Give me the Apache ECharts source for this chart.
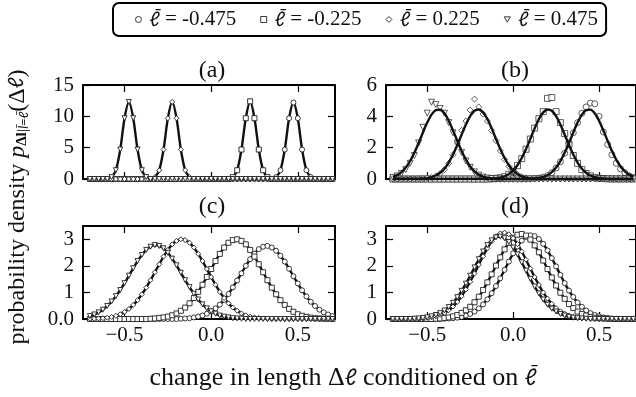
<!DOCTYPE html>
<html>
<head>
<meta charset="utf-8">
<script src="https://cdn.jsdelivr.net/npm/echarts@6/dist/echarts.min.js"></script>
<style>
  html, body { margin: 0; padding: 0; background: #fff; }
  #chart { width: 636px; height: 397px; }
</style>
</head>
<body>
<div id="chart"></div>
<script>
// shared x positions of the measured points (change in length)
const xGrid = [-0.7,-0.675,-0.65,-0.625,-0.6,-0.575,-0.55,-0.525,-0.5,-0.475,
  -0.45,-0.425,-0.4,-0.375,-0.35,-0.325,-0.3,-0.275,-0.25,-0.225,
  -0.2,-0.175,-0.15,-0.125,-0.1,-0.075,-0.05,-0.025,0,0.025,
  0.05,0.075,0.1,0.125,0.15,0.175,0.2,0.225,0.25,0.275,
  0.3,0.325,0.35,0.375,0.4,0.425,0.45,0.475,0.5,0.525,
  0.55,0.575,0.6,0.625,0.65,0.675,0.7];

const xTicks = [-0.5, 0, 0.5];
const yTicksA = [0, 5, 10, 15];
const yTicksB = [0, 2, 4, 6];
const yTicksCD = [0, 1, 2, 3];
const panelTitles = ['(a)', '(b)', '(c)', '(d)'];

// (a)
const aTri = [0,0,0,0,0,0.3,1.4,4.7,9.7,12.3, 9.7,4.7,1.4,0.3,0,0,0,0,0,0,
  0,0,0,0,0,0,0,0,0,0, 0,0,0,0,0,0,0,0,0,0, 0,0,0,0,0,0,0,0,0,0, 0,0,0,0,0,0,0];
const aDia = [0,0,0,0,0,0,0,0,0,0, 0,0,0,0,0,0.3,1.4,4.7,9.7,12.3,
  9.7,4.7,1.4,0.3,0,0,0,0,0,0, 0,0,0,0,0,0,0,0,0,0, 0,0,0,0,0,0,0,0,0,0, 0,0,0,0,0,0,0];
const aSq = [0,0,0,0,0,0,0,0,0,0, 0,0,0,0,0,0,0,0,0,0, 0,0,0,0,0,0,0,0,0,0,
  0,0,0,0.3,1.4,4.7,9.7,12.4,9.7,4.7, 1.4,0.3,0,0,0,0,0,0,0,0, 0,0,0,0,0,0,0];
const aCir = [0,0,0,0,0,0,0,0,0,0, 0,0,0,0,0,0,0,0,0,0, 0,0,0,0,0,0,0,0,0,0,
  0,0,0,0,0,0,0,0,0,0, 0,0,0,0.3,1.4,4.7,9.7,12.2,9.7,4.7, 1.4,0.3,0,0,0,0,0];

// (b) fitted curves
const bTriFit = [0.13,0.25,0.44,0.73,1.14,1.67,2.30,2.97,3.60,4.11,
  4.40,4.43,4.19,3.72,3.10,2.43,1.79,1.24,0.80,0.49,
  0.28,0.15,0.08,0.04,0.02,0,0,0,0,0, 0,0,0,0,0,0,0,0,0,0, 0,0,0,0,0,0,0,0,0,0, 0,0,0,0,0,0,0];
const bDiaFit = [0,0,0,0,0,0,0.01,0.03,0.06,0.12,
  0.22,0.40,0.66,1.05,1.56,2.17,2.83,3.48,4.02,4.36,
  4.44,4.25,3.83,3.23,2.56,1.91,1.34,0.88,0.54,0.32,
  0.17,0.09,0.04,0.02,0,0,0,0,0,0, 0,0,0,0,0,0,0,0,0,0, 0,0,0,0,0,0,0];
const bSqFit = [0,0,0,0,0,0,0,0,0,0, 0,0,0,0,0,0,0,0,0,0,
  0,0,0,0.02,0.04,0.09,0.17,0.32,0.54,0.88,
  1.34,1.91,2.56,3.23,3.83,4.25,4.44,4.36,4.02,3.48,
  2.83,2.17,1.56,1.05,0.66,0.40,0.22,0.12,0.06,0.03,
  0.01,0,0,0,0,0,0];
const bCirFit = [0,0,0,0,0,0,0,0,0,0, 0,0,0,0,0,0,0,0,0,0, 0,0,0,0,0,0,0,0,0,0,
  0,0,0.01,0.03,0.07,0.13,0.25,0.44,0.73,1.14,
  1.67,2.30,2.97,3.60,4.11,4.40,4.43,4.19,3.72,3.10,
  2.43,1.79,1.24,0.80,0.49,0.28,0.15];
// (b) measured points
const bTri = [0.1,0.2,0.35,0.6,1.0,1.5,2.3,3.3,4.2,4.9,
  4.75,4.5,4.2,3.6,2.95,2.3,1.7,1.15,0.75,0.45,
  0.25,0.12,0.06,0.03,0.01,0,0,0,0,0, 0,0,0,0,0,0,0,0,0,0, 0,0,0,0,0,0,0,0,0,0, 0,0,0,0,0,0,0];
const bDia = [0,0,0,0,0,0,0.01,0.03,0.06,0.1,
  0.2,0.35,0.6,1.0,1.55,2.3,3.1,3.7,4.4,5.1,
  4.6,4.15,3.7,3.1,2.45,1.8,1.25,0.8,0.5,0.3,
  0.15,0.08,0.04,0.02,0,0,0,0,0,0, 0,0,0,0,0,0,0,0,0,0, 0,0,0,0,0,0,0];
const bSq = [0,0,0,0,0,0,0,0,0,0, 0,0,0,0,0,0,0,0,0,0,
  0,0,0,0.02,0.04,0.08,0.15,0.3,0.5,0.85,
  1.3,1.9,2.55,3.25,3.85,4.3,5.15,5.2,4.3,3.6,
  2.9,2.2,1.5,1.0,0.6,0.35,0.2,0.1,0.05,0.03,
  0.01,0,0,0,0,0,0];
const bCir = [0,0,0,0,0,0,0,0,0,0, 0,0,0,0,0,0,0,0,0,0, 0,0,0,0,0,0,0,0,0,0,
  0,0,0.01,0.03,0.06,0.12,0.22,0.4,0.7,1.1,
  1.65,2.3,2.95,3.6,4.2,4.6,4.85,4.8,4.0,3.0,
  2.2,1.55,1.0,0.65,0.4,0.2,0.1];

// (c)
const cTri = [0.11,0.17,0.25,0.35,0.49,0.66,0.86,1.09,1.35,1.63,
  1.91,2.18,2.41,2.60,2.72,2.78,2.75,2.66,2.49,2.27,
  2.02,1.74,1.46,1.20,0.95,0.73,0.55,0.40,0.29,0.20,
  0.13,0.09,0.06,0.03,0.02,0.01,0,0,0,0, 0,0,0,0,0,0,0,0,0,0, 0,0,0,0,0,0,0];
const cDia = [0.01,0.01,0.02,0.03,0.05,0.08,0.12,0.18,0.27,0.38,
  0.53,0.71,0.93,1.18,1.46,1.76,2.06,2.35,2.60,2.81,
  2.94,3.00,2.97,2.87,2.69,2.45,2.18,1.88,1.58,1.29,
  1.02,0.79,0.59,0.43,0.31,0.21,0.14,0.09,0.06,0.04,
  0.02,0.01,0,0,0,0,0,0,0,0, 0,0,0,0,0,0,0];
const cSq = [0,0,0,0,0,0,0,0,0,0,
  0,0,0,0,0.01,0.02,0.04,0.06,0.09,0.14,
  0.21,0.31,0.43,0.59,0.79,1.02,1.29,1.58,1.88,2.18,
  2.45,2.69,2.87,2.97,3.00,2.94,2.81,2.60,2.35,2.06,
  1.76,1.46,1.18,0.93,0.71,0.53,0.38,0.27,0.18,0.12,
  0.08,0.05,0.03,0.02,0.01,0.01,0];
const cCir = [0,0,0,0,0,0,0,0,0,0, 0,0,0,0,0,0,0,0,0,0,
  0,0.01,0.02,0.03,0.06,0.09,0.13,0.20,0.29,0.40,
  0.54,0.72,0.94,1.19,1.45,1.72,2.00,2.25,2.46,2.63,
  2.72,2.75,2.69,2.57,2.38,2.16,1.89,1.61,1.34,1.08,
  0.85,0.65,0.49,0.35,0.25,0.17,0.11];

// (d)
const dTri = [0,0,0,0,0,0.01,0.02,0.04,0.06,0.10,
  0.15,0.22,0.32,0.45,0.61,0.82,1.06,1.33,1.63,1.94,
  2.25,2.54,2.78,2.96,3.07,3.10,3.04,2.90,2.69,2.43,
  2.13,1.82,1.51,1.22,0.96,0.73,0.54,0.39,0.28,0.19,
  0.13,0.08,0.05,0.03,0.02,0.01,0,0,0,0, 0,0,0,0,0,0,0];
const dDia = [0,0,0,0,0,0,0.01,0.02,0.04,0.06,
  0.10,0.16,0.23,0.33,0.47,0.64,0.86,1.11,1.40,1.71,
  2.04,2.36,2.66,2.92,3.11,3.22,3.25,3.19,3.04,2.82,
  2.54,2.23,1.90,1.58,1.28,1.00,0.77,0.57,0.41,0.29,
  0.20,0.13,0.08,0.05,0.03,0.02,0.01,0,0,0, 0,0,0,0,0,0,0];
const dSq = [0,0,0,0,0,0,0,0,0,0,
  0.01,0.02,0.04,0.06,0.10,0.15,0.23,0.33,0.46,0.63,
  0.84,1.09,1.38,1.68,2.01,2.32,2.62,2.87,3.06,3.17,
  3.20,3.14,2.99,2.77,2.51,2.20,1.88,1.56,1.26,0.99,
  0.76,0.56,0.41,0.28,0.19,0.13,0.08,0.05,0.03,0.02,
  0.01,0,0,0,0,0,0];
const dCir = [0,0,0,0,0,0,0,0,0,0,
  0,0,0.01,0.02,0.03,0.05,0.08,0.13,0.19,0.28,
  0.40,0.55,0.74,0.97,1.24,1.53,1.85,2.16,2.47,2.73,
  2.95,3.09,3.15,3.12,3.01,2.83,2.58,2.29,1.98,1.66,
  1.35,1.07,0.83,0.62,0.46,0.32,0.22,0.15,0.10,0.06,
  0.04,0.02,0.01,0,0,0,0];

const FONT = '"Liberation Serif", "DejaVu Serif", serif';
const ELL = 'Lato, "DejaVu Sans", sans-serif';   // renders ℓ with a centred macron
const INK = '#111';
const LBL = {
  cir: 'ℓ\u0304 = -0.475', sq: 'ℓ\u0304 = -0.225',
  dia: 'ℓ\u0304 = 0.225', tri: 'ℓ\u0304 = 0.475'
};
const SYM = {
  cir: 'circle',
  sq: 'rect',
  dia: 'path://M5,0L10,5L5,10L0,5Z',
  tri: 'path://M0,0L10,0L5,9Z'
};
const markStyle = { color: '#fff', borderColor: '#222', borderWidth: 0.9 };

const grids = [
  { left: 83, top: 85, width: 252, height: 94 },
  { left: 386, top: 85, width: 252, height: 94 },
  { left: 83, top: 226, width: 252, height: 93 },
  { left: 386, top: 226, width: 252, height: 93 }
];
const yMax = [15, 6, 3.5, 3.5];
const yTicks = [yTicksA, yTicksB, yTicksCD, yTicksCD];

const pts = ys => xGrid.map((x, i) => [x, ys[i]]);
const fmtX = v => (v < 0 ? '\u2212' + Math.abs(v).toFixed(1) : v.toFixed(1));

const xAxes = [], yAxes = [];
grids.forEach((g, i) => {
  ['bottom', 'top'].forEach(pos => {
    xAxes.push({
      gridIndex: i, type: 'value', position: pos, min: -0.74, max: 0.715,
      axisLine: { onZero: false, lineStyle: { color: '#000', width: 2 } },
      axisTick: { inside: true, length: 7, customValues: xTicks, lineStyle: { color: '#000', width: 1.2 } },
      axisLabel: {
        show: pos === 'bottom' && i >= 2, customValues: xTicks, formatter: fmtX,
        fontFamily: FONT, fontSize: 21, color: INK, margin: 6
      },
      splitLine: { show: false }
    });
  });
  ['left', 'right'].forEach(pos => {
    yAxes.push({
      gridIndex: i, type: 'value', position: pos, min: 0, max: yMax[i],
      axisLine: { show: true, onZero: false, lineStyle: { color: '#000', width: 2 } },
      axisTick: { show: true, inside: true, length: 7, customValues: yTicks[i], lineStyle: { color: '#000', width: 1.2 } },
      axisLabel: {
        show: pos === 'left', customValues: yTicks[i],
        formatter: v => (i === 2 && v === 0 ? '0.0' : String(v)),
        fontFamily: FONT, fontSize: 21, color: INK, margin: 9
      },
      splitLine: { show: false }
    });
  });
});

function curve(g, key, ys, withSymbol) {
  return {
    name: LBL[key], type: 'line', xAxisIndex: g * 2, yAxisIndex: g * 2,
    data: pts(ys), smooth: 0.3, symbol: SYM[key], symbolSize: 5,
    showSymbol: withSymbol, lineStyle: { color: INK, width: 2.4 },
    itemStyle: markStyle, z: 3
  };
}
function dots(g, key, ys) {
  return {
    name: LBL[key], type: 'scatter', xAxisIndex: g * 2, yAxisIndex: g * 2,
    data: pts(ys), symbol: SYM[key], symbolSize: 6, itemStyle: markStyle, z: 2
  };
}

const series = [
  curve(0, 'cir', aCir, true), curve(0, 'sq', aSq, true),
  curve(0, 'dia', aDia, true), curve(0, 'tri', aTri, true),
  dots(1, 'cir', bCir), dots(1, 'sq', bSq), dots(1, 'dia', bDia), dots(1, 'tri', bTri),
  curve(1, 'cir', bCirFit, false), curve(1, 'sq', bSqFit, false),
  curve(1, 'dia', bDiaFit, false), curve(1, 'tri', bTriFit, false),
  curve(2, 'cir', cCir, true), curve(2, 'sq', cSq, true),
  curve(2, 'dia', cDia, true), curve(2, 'tri', cTri, true),
  curve(3, 'cir', dCir, true), curve(3, 'sq', dSq, true),
  curve(3, 'dia', dDia, true), curve(3, 'tri', dTri, true)
];

const chart = echarts.init(document.getElementById('chart'));
chart.setOption({
  animation: false,
  backgroundColor: '#fff',
  title: panelTitles.map((t, i) => ({
    text: t, left: grids[i].left + grids[i].width / 2 - 2, top: i < 2 ? 54 : 190,
    textAlign: 'center',
    textStyle: { fontFamily: FONT, fontSize: 24, fontWeight: 'normal', color: INK }
  })),
  legend: {
    left: 113, top: 3, padding: [6, 8, 6, 22], itemGap: 24, itemWidth: 6, itemHeight: 6,
    borderColor: '#000', borderWidth: 2, borderRadius: 6, selectedMode: false,
    formatter: name => name.replace('ℓ\u0304', '{l|ℓ\u0304}'),
    textStyle: {
      fontFamily: FONT, fontSize: 21, color: INK, padding: [0, 0, 0, 3],
      rich: { l: { fontFamily: ELL, fontStyle: 'italic', fontSize: 20, color: INK } }
    },
    data: ['cir', 'sq', 'dia', 'tri'].map(k => ({ name: LBL[k], icon: SYM[k], itemStyle: markStyle }))
  },
  grid: grids,
  xAxis: xAxes,
  yAxis: yAxes,
  series: series,
  graphic: [
    {
      type: 'text', x: 18, y: 207, rotation: Math.PI / 2,
      style: {
        text: '{n|probability density }{p|p}{sb|Δl}{s||l\u0304=ℓ\u0304}{n|(Δ}{l|ℓ}{n|)}',
        align: 'center', verticalAlign: 'middle',
        rich: {
          n: { fontFamily: FONT, fontSize: 24, fill: INK, lineHeight: 24, verticalAlign: 'top' },
          p: { fontFamily: FONT, fontSize: 24, fontStyle: 'italic', fill: INK, lineHeight: 24, verticalAlign: 'top' },
          l: { fontFamily: ELL, fontSize: 21, fontStyle: 'italic', fill: INK, lineHeight: 24, verticalAlign: 'top' },
          sb: { fontFamily: FONT, fontSize: 15, fontWeight: 'bold', fill: INK, lineHeight: 15, verticalAlign: 'bottom' },
          s: { fontFamily: ELL, fontSize: 13, fontStyle: 'italic', fill: INK, lineHeight: 15, verticalAlign: 'bottom' }
        }
      }
    },
    {
      type: 'text', x: 343, y: 378,
      style: {
        text: '{n|change in length Δ}{l|ℓ}{n| conditioned on }{l|ℓ\u0304}',
        align: 'center', verticalAlign: 'middle',
        rich: {
          n: { fontFamily: FONT, fontSize: 26, fill: INK },
          l: { fontFamily: ELL, fontSize: 23, fontStyle: 'italic', fill: INK }
        }
      }
    }
  ]
});
</script>
</body>
</html>
